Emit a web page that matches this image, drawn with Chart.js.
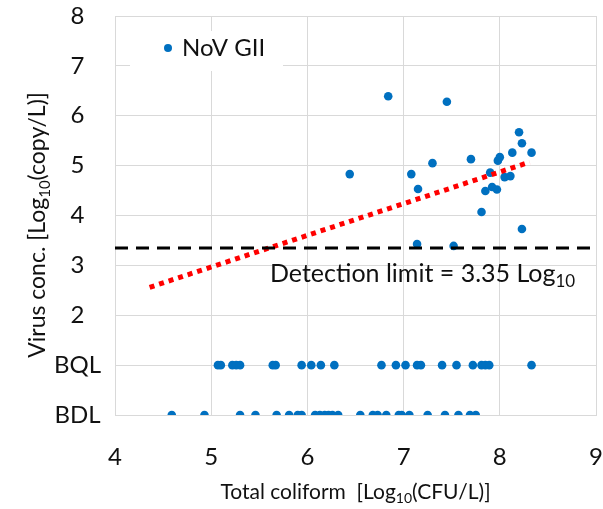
<!DOCTYPE html>
<html lang="en">
<head>
<meta charset="UTF-8">
<title>NoV GII vs Total coliform</title>
<script src="https://cdn.jsdelivr.net/npm/chart.js"></script>
<style>
  html, body { margin: 0; padding: 0; background: #fff; }
</style>
</head>
<body>
<canvas id="chart" width="603" height="509"></canvas>
<script>
// quantified samples: total coliform (log10 CFU/L) vs virus conc. (log10 copy/L)
const novX = [6.84, 7.45, 6.44, 7.08, 7.15, 7.30, 7.70, 8.20, 8.23, 8.13, 8.33, 7.98,
              8.00, 7.90, 8.05, 8.11, 7.85, 7.92, 7.97, 7.81, 8.23, 7.14, 7.52];
const novY = [6.39, 6.28, 4.83, 4.83, 4.53, 5.05, 5.13, 5.67, 5.45, 5.26, 5.26, 5.10,
              5.17, 4.86, 4.77, 4.79, 4.49, 4.57, 4.52, 4.07, 3.73, 3.43, 3.39];
// samples below quantification limit (plotted at BQL)
const bqlX = [5.07, 5.10, 5.22, 5.26, 5.30, 5.64, 5.67, 5.94, 6.04, 6.14, 6.28, 6.77,
              6.92, 7.02, 7.14, 7.18, 7.40, 7.55, 7.72, 7.81, 7.85, 7.89, 8.33];
// samples below detection limit (plotted at BDL)
const bdlX = [4.59, 4.93, 5.30, 5.46, 5.68, 5.81, 5.90, 5.94, 6.08, 6.13, 6.18, 6.22,
              6.26, 6.32, 6.55, 6.68, 6.73, 6.82, 6.95, 6.98, 7.06, 7.25, 7.43, 7.57,
              7.69, 7.75];
const BDL = 0, BQL = 1;
const yTickLabels = ['BDL', 'BQL', '2', '3', '4', '5', '6', '7', '8'];
const detectionLimit = 3.35;
// linear trend line end points
const trendX = [4.36, 8.31];
const trendY = [2.56, 5.07];

const FONT = 'Lato, "Liberation Sans", sans-serif';
const BLUE = '#0070C0';

const points = [];
novX.forEach((x, i) => points.push({x: x, y: novY[i]}));
bqlX.forEach(x => points.push({x: x, y: BQL}));
bdlX.forEach(x => points.push({x: x, y: BDL}));

// draws text with subscript parts, parts = [[text, isSub], ...]
function richText(ctx, parts, x, y, size, align) {
  const subSize = Math.round(size * 0.66);
  let total = 0;
  parts.forEach(p => {
    ctx.font = (p[1] ? subSize : size) + 'px ' + FONT;
    total += ctx.measureText(p[0]).width;
  });
  let cx = align === 'center' ? x - total / 2 : x;
  ctx.textAlign = 'left';
  ctx.textBaseline = 'middle';
  parts.forEach(p => {
    ctx.font = (p[1] ? subSize : size) + 'px ' + FONT;
    ctx.fillText(p[0], cx, p[1] ? y + size * 0.32 : y);
    cx += ctx.measureText(p[0]).width;
  });
}

const extras = {
  id: 'extras',
  afterDraw(chart) {
    const ctx = chart.ctx;
    const ys = chart.scales.y;
    ctx.save();
    // legend
    ctx.fillStyle = '#fff';
    ctx.fillRect(130, 31, 153, 40);
    ctx.fillStyle = BLUE;
    ctx.beginPath();
    ctx.arc(168, 48, 4, 0, Math.PI * 2);
    ctx.fill();
    ctx.fillStyle = '#111';
    ctx.font = '24px ' + FONT;
    ctx.textAlign = 'left';
    ctx.textBaseline = 'middle';
    ctx.fillText('NoV GII', 182, 48);
    // detection limit label
    richText(ctx, [['Detection limit = 3.35 Log', false], ['10', true]],
      270, ys.getPixelForValue(detectionLimit) + 26, 25, 'left');
    // x axis title
    const cxArea = (chart.chartArea.left + chart.chartArea.right) / 2;
    richText(ctx, [['Total coliform  [Log', false], ['10', true], ['(CFU/L)]', false]],
      cxArea, 492, 21, 'center');
    // y axis title
    ctx.translate(38, 225);
    ctx.rotate(-Math.PI / 2);
    richText(ctx, [['Virus conc. [Log', false], ['10', true], ['(copy/L)]', false]],
      0, 0, 23, 'center');
    ctx.restore();
  }
};

// keep the plot area fixed: no extra padding from tick labels
function noPad(scale) {
  scale.paddingLeft = 0;
  scale.paddingRight = 0;
  scale.paddingTop = 0;
  scale.paddingBottom = 0;
}

new Chart(document.getElementById('chart'), {
  type: 'scatter',
  data: {
    datasets: [
      {
        label: 'Detection limit',
        type: 'line',
        data: [{x: 4, y: detectionLimit}, {x: 9, y: detectionLimit}],
        borderColor: '#000',
        borderWidth: 3,
        borderDash: [13, 8],
        pointRadius: 0,
        fill: false
      },
      {
        label: 'Trend',
        type: 'line',
        data: trendX.map((x, i) => ({x: x, y: trendY[i]})),
        borderColor: '#FF0000',
        borderWidth: 5,
        borderDash: [5, 5],
        borderCapStyle: 'butt',
        pointRadius: 0,
        fill: false
      },
      {
        label: 'NoV GII',
        data: points,
        backgroundColor: BLUE,
        borderColor: BLUE,
        pointRadius: 4.3,
        borderWidth: 0
      }
    ]
  },
  options: {
    responsive: false,
    animation: false,
    layout: { padding: { left: 0, right: 7, top: 16, bottom: 0 } },
    plugins: {
      legend: { display: false },
      tooltip: { enabled: false }
    },
    scales: {
      x: {
        type: 'linear',
        min: 4, max: 9,
        afterFit(scale) { scale.height = 94; noPad(scale); },
        ticks: {
          stepSize: 1,
          padding: 28,
          color: '#111',
          font: { family: FONT, size: 24 }
        },
        grid: { color: '#d9d9d9', drawTicks: false },
        border: { color: '#d9d9d9' }
      },
      y: {
        min: 0, max: 8,
        afterFit(scale) { scale.width = 115; noPad(scale); },
        ticks: {
          stepSize: 1,
          padding: 14,
          crossAlign: 'center',
          color: '#111',
          font: { family: FONT, size: 24 },
          callback: v => yTickLabels[v]
        },
        grid: { color: '#d9d9d9', drawTicks: false },
        border: { color: '#d9d9d9' }
      }
    }
  },
  plugins: [extras]
});
</script>
</body>
</html>
